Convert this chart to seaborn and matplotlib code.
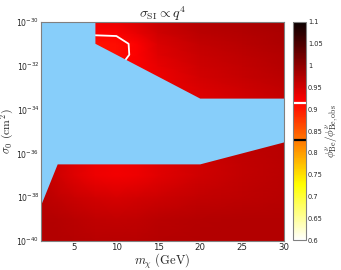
import numpy as np
import matplotlib
matplotlib.use("Agg")
import matplotlib.pyplot as plt
import seaborn as sns

# ---- data ----
masses = [1, 3, 5, 7.5, 10, 12.5, 15, 20, 25, 30]

logsig_low = [-40, -39, -38, -37, -36.5, -35.5]
ratio_low = [
    [0.975, 0.975, 0.972, 0.970, 0.970, 0.970, 0.972, 0.975, 0.975, 0.975],
    [0.975, 0.972, 0.968, 0.965, 0.963, 0.965, 0.968, 0.972, 0.974, 0.975],
    [0.970, 0.962, 0.957, 0.950, 0.947, 0.950, 0.955, 0.962, 0.967, 0.970],
    [0.965, 0.952, 0.940, 0.930, 0.925, 0.930, 0.938, 0.952, 0.962, 0.968],
    [0.965, 0.952, 0.942, 0.932, 0.927, 0.932, 0.940, 0.952, 0.962, 0.968],
    [0.970, 0.962, 0.957, 0.952, 0.952, 0.952, 0.957, 0.962, 0.966, 0.970],
]

logsig_high = [-33.5, -33, -32.5, -32, -31.5, -31, -30.5, -30]
ratio_high = [
    [0.945, 0.945, 0.945, 0.940, 0.935, 0.935, 0.935, 0.940, 0.950, 0.960],
    [0.940, 0.940, 0.940, 0.935, 0.930, 0.930, 0.933, 0.945, 0.955, 0.965],
    [0.935, 0.935, 0.930, 0.925, 0.922, 0.925, 0.930, 0.950, 0.960, 0.968],
    [0.930, 0.925, 0.920, 0.915, 0.913, 0.922, 0.935, 0.955, 0.963, 0.972],
    [0.920, 0.915, 0.910, 0.905, 0.907, 0.920, 0.940, 0.958, 0.966, 0.975],
    [0.920, 0.915, 0.910, 0.905, 0.908, 0.920, 0.945, 0.962, 0.970, 0.977],
    [0.925, 0.920, 0.918, 0.920, 0.920, 0.935, 0.952, 0.968, 0.975, 0.980],
    [0.935, 0.930, 0.930, 0.930, 0.933, 0.945, 0.958, 0.972, 0.978, 0.983],
]

# excluded (light blue) region boundary
excl_lower_m = [1, 3, 20, 30]
excl_lower_logsig = [-38.4, -36.5, -36.5, -35.5]
excl_upper_m = [30, 20, 7.5, 7.5, 1]
excl_upper_logsig = [-33.5, -33.5, -31.0, -30.0, -30.0]

contour_level = 0.915
cbar_marks = [(0.915, "white"), (0.83, "black")]
cbar_ticks = [0.6, 0.65, 0.7, 0.75, 0.8, 0.85, 0.9, 0.95, 1.0, 1.05, 1.1]
cbar_ticklabels = ["0.6", "0.65", "0.7", "0.75", "0.8", "0.85", "0.9", "0.95", "1", "1.05", "1.1"]
x_ticks = [5, 10, 15, 20, 25, 30]
y_tick_exps = [-40, -38, -36, -34, -32, -30]

# ---- plotting ----
sns.set_style("white")
plt.rcParams["font.family"] = ["DejaVu Sans"]

cmap = sns.color_palette("hot_r", as_cmap=True)
vmin, vmax = 0.6, 1.1

fig = plt.figure(figsize=(3.41, 2.70), dpi=100)
ax = fig.add_axes([0.120, 0.107, 0.713, 0.812])
cax = fig.add_axes([0.860, 0.110, 0.038, 0.809])

M = np.array(masses, dtype=float)
for ls, rv in [(logsig_low, ratio_low), (logsig_high, ratio_high)]:
    X, Y = np.meshgrid(M, 10.0 ** np.array(ls))
    ax.pcolormesh(X, Y, np.array(rv), cmap=cmap, vmin=vmin, vmax=vmax,
                  shading="gouraud", zorder=1)

Xh, Yh = np.meshgrid(M, 10.0 ** np.array(logsig_high))
ax.contour(Xh, Yh, np.array(ratio_high), levels=[contour_level],
           colors="white", linewidths=1.3, zorder=2)

poly_m = list(excl_lower_m) + list(excl_upper_m)
poly_s = list(10.0 ** np.array(excl_lower_logsig)) + list(10.0 ** np.array(excl_upper_logsig))
ax.fill(poly_m, poly_s, color="#87CEFA", lw=0, zorder=3)

ax.set_yscale("log")
ax.set_xlim(1, 30)
ax.set_ylim(1e-40, 1e-30)
ax.set_xticks(x_ticks)
ax.set_xticklabels([str(t) for t in x_ticks])
ax.set_yticks([10.0 ** e for e in y_tick_exps])
ax.set_yticklabels([r"$10^{%d}$" % e for e in y_tick_exps])
ax.yaxis.set_minor_locator(matplotlib.ticker.NullLocator())
ax.tick_params(direction="in", length=2.5, width=0.6, color="#444444",
               labelsize=6.2, pad=1.5, top=True, right=True)
ax.tick_params(axis="y", labelsize=5.6, pad=1.0)
for sp in ax.spines.values():
    sp.set_color("#808080")
    sp.set_linewidth(0.8)
    sp.set_zorder(5)

ax.set_xlabel(r"$m_\chi\ (\mathrm{GeV})$", fontsize=9, math_fontfamily="cm", labelpad=0)
ax.set_ylabel(r"$\sigma_0\ (\mathrm{cm}^2)$", fontsize=8.5, math_fontfamily="cm", labelpad=0.5)
ax.set_title(r"$\sigma_{\mathrm{SI}} \propto q^4$", fontsize=10, math_fontfamily="cm", pad=3)

norm = matplotlib.colors.Normalize(vmin=vmin, vmax=vmax)
cb = fig.colorbar(matplotlib.cm.ScalarMappable(norm=norm, cmap=cmap), cax=cax)
cb.set_ticks(cbar_ticks)
cb.set_ticklabels(cbar_ticklabels)
cb.ax.tick_params(direction="in", length=2, width=0.5, color="#888888",
                  labelsize=4.8, pad=1.2)
cb.outline.set_edgecolor("#808080")
cb.outline.set_linewidth(0.8)
for val, col in cbar_marks:
    cb.ax.axhline(val, color=col, lw=1.6)
cb.set_label(r"$\phi^\nu_{\mathrm{Be}}/\phi^\nu_{\mathrm{Be,obs}}$", fontsize=8,
             math_fontfamily="cm", labelpad=0.5)

fig.savefig("out.png", dpi=100)
